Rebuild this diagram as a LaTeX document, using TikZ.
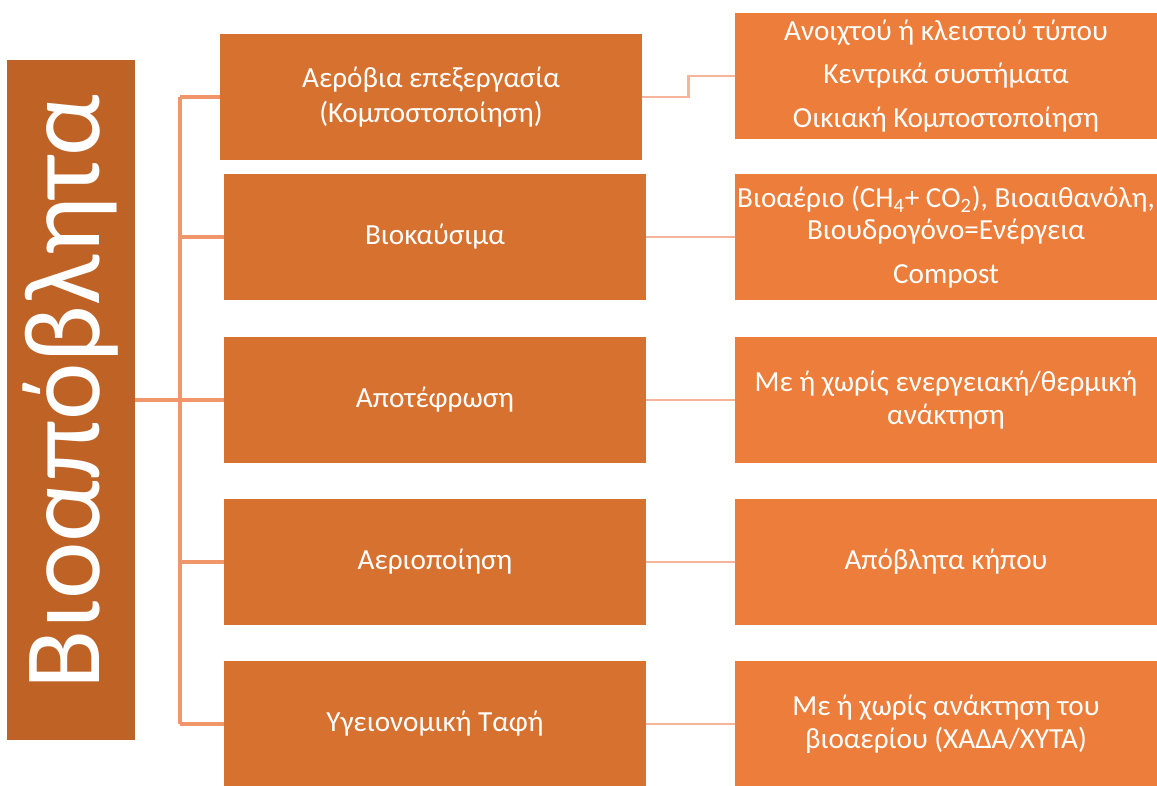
\documentclass[tikz,border=0pt]{standalone}
\usepackage{fontspec}
\setmainfont{Carlito}
\usetikzlibrary{calc}

\definecolor{titlefill}{RGB}{190,98,38}
\definecolor{midfill}{RGB}{215,113,48}
\definecolor{resfill}{RGB}{237,125,58}
\definecolor{linkcol}{RGB}{240,150,106}
\definecolor{sublinkcol}{RGB}{246,180,154}

\tikzset{
  titlebox/.style={fill=titlefill, text=white, inner sep=0pt, rotate=90,
    minimum width=13.6cm, minimum height=2.56cm,
    font=\fontsize{62}{64}\selectfont},
  midbox/.style={fill=midfill, text=white, align=center, inner sep=0pt,
    minimum width=8.44cm, minimum height=2.52cm,
    font=\fontsize{16.6}{19.5}\selectfont},
  resbox/.style={fill=resfill, text=white, align=center, inner sep=0pt,
    minimum width=8.44cm, minimum height=2.52cm,
    font=\fontsize{16.6}{19}\selectfont},
  link/.style={draw=linkcol, line width=1.8pt},
  sublink/.style={draw=sublinkcol, line width=1.6pt}
}

\begin{document}
\begin{tikzpicture}[x=0.02cm, y=-0.02cm]
	\useasboundingbox (0,0) rectangle (1157,785);
	
	% main category
	\node[titlebox] (title) at (71,400) {\hspace*{0.32cm}Βιοαπόβλητα};
	
	% treatment methods
	\node[midbox] (mid1) at (431,97) {Αερόβια επεξεργασία\\(Κομποστοποίηση)};
	\node[midbox] (mid2) at (435,237) {Βιοκαύσιμα};
	\node[midbox] (mid3) at (435,400) {Αποτέφρωση};
	\node[midbox] (mid4) at (435,562) {Αεριοποίηση};
	\node[midbox] (mid5) at (435,724) {Υγειονομική Ταφή};
	
	% results
	\node[resbox] (res1) at (946,76) {Ανοιχτού ή κλειστού τύπου\\[6pt]Κεντρικά συστήματα\\[6pt]Οικιακή Κομποστοποίηση};
	\node[resbox, font=\fontsize{16.6}{18}\selectfont] (res2) at (946,237) {Βιοαέριο (CH\textsubscript{4}+ CO\textsubscript{2}), Βιοαιθανόλη,\\Βιουδρογόνο=Ενέργεια\\[7pt]Compost};
	\node[resbox] (res3) at (946,400) {Με ή χωρίς ενεργειακή/θερμική\\ανάκτηση};
	\node[resbox] (res4) at (946,562) {Απόβλητα κήπου};
	\node[resbox] (res5) at (946,724) {Με ή χωρίς ανάκτηση του\\βιοαερίου (ΧΑΔΑ/ΧΥΤΑ)};
	
	% tree connectors
	\coordinate (spine) at (180,400);
	\draw[link] (title.south) -- (spine);
	\draw[link] (spine |- mid1.west) -- (spine |- mid5.west);
	\foreach \i in {1,...,5}
		\draw[link] (spine |- mid\i.west) -- (mid\i.west);
	
	\draw[sublink] (mid1.east) -- ++(46,0) |- (res1.west);
	\foreach \i in {2,...,5}
		\draw[sublink] (mid\i.east) -- (res\i.west);
\end{tikzpicture}
\end{document}
